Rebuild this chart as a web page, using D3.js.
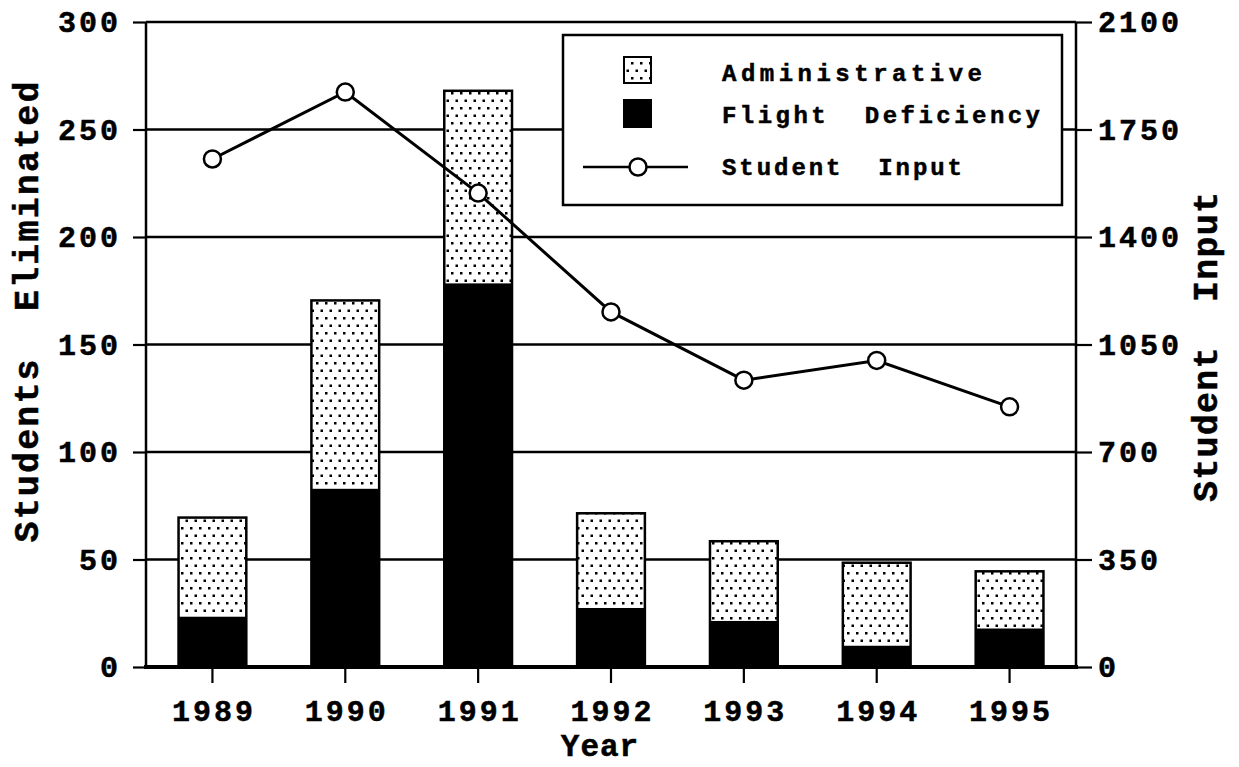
<!DOCTYPE html>
<html>
<head>
<meta charset="utf-8">
<script src="https://cdn.jsdelivr.net/npm/d3@7/dist/d3.min.js"></script>
<style>
body { margin: 0; background: #fff; }
text { font-family: "Liberation Mono", "Courier New", monospace; font-weight: bold; fill: #000; white-space: pre; stroke: #000; stroke-width: 0.5px; }
</style>
</head>
<body>
<svg id="chart" width="1239" height="767"></svg>
<script>
// data
var years = ["1989", "1990", "1991", "1992", "1993", "1994", "1995"];
var flightDeficiency = [23.5, 83, 178.5, 27.5, 21.5, 10, 18];
var administrative = [46, 87.5, 89.5, 44, 37, 38.5, 26.5];
var studentInput = [1654, 1872, 1543, 1156, 934, 998, 847];
var leftTicks = [0, 50, 100, 150, 200, 250, 300];
var rightTicks = [0, 350, 700, 1050, 1400, 1750, 2100];
var legendLabels = ["Administrative", "Flight  Deficiency", "Student  Input"];

var svg = d3.select("#chart");
// plot box (note: "top" is taken by window.top)
var pLeft = 146, pRight = 1076, pTop = 22, pBottom = 667;

var x = d3.scaleBand().domain(years).range([pLeft, pRight]).paddingInner(0.49).paddingOuter(0.245);
var yL = d3.scaleLinear().domain([0, 300]).range([pBottom, pTop]);
var yR = d3.scaleLinear().domain([0, 2100]).range([pBottom, pTop]);

// dotted fill
var pat = svg.append("defs").append("pattern")
    .attr("id", "dots").attr("patternUnits", "userSpaceOnUse")
    .attr("width", 9).attr("height", 15);
pat.append("rect").attr("width", 9).attr("height", 15).attr("fill", "#fff");
pat.append("rect").attr("x", 1).attr("y", 2).attr("width", 2.5).attr("height", 2.5).attr("fill", "#000");
pat.append("rect").attr("x", 5.5).attr("y", 9.5).attr("width", 2.5).attr("height", 2.5).attr("fill", "#000");

// grid lines
svg.append("g").selectAll("line").data(leftTicks.slice(1)).enter().append("line")
    .attr("x1", pLeft).attr("x2", pRight)
    .attr("y1", function(d) { return yL(d); }).attr("y2", function(d) { return yL(d); })
    .attr("stroke", "#000").attr("stroke-width", 2.5);

// stacked bars
var table = years.map(function(y, i) {
    return { year: y, flight: flightDeficiency[i], admin: administrative[i] };
});
var stack = d3.stack().keys(["flight", "admin"])(table);
var fills = { flight: "#000", admin: "url(#dots)" };

svg.append("g").selectAll("g").data(stack).enter().append("g")
    .attr("fill", function(d) { return fills[d.key]; })
    .selectAll("rect").data(function(d) { return d; }).enter().append("rect")
    .attr("x", function(d) { return x(d.data.year); })
    .attr("width", x.bandwidth())
    .attr("y", function(d) { return yL(d[1]); })
    .attr("height", function(d) { return yL(d[0]) - yL(d[1]); });

svg.append("g").selectAll("rect").data(stack[1]).enter().append("rect")
    .attr("x", function(d) { return x(d.data.year); })
    .attr("width", x.bandwidth())
    .attr("y", function(d) { return yL(d[1]); })
    .attr("height", function(d) { return yL(0) - yL(d[1]); })
    .attr("fill", "none").attr("stroke", "#000").attr("stroke-width", 2.5);

// axes
var gl = svg.append("g").attr("transform", "translate(" + pLeft + ",0)")
    .call(d3.axisLeft(yL).tickValues(leftTicks).tickSize(13).tickPadding(15));
var gr = svg.append("g").attr("transform", "translate(" + pRight + ",0)")
    .call(d3.axisRight(yR).tickValues(rightTicks).tickFormat(d3.format("d")).tickSize(16).tickPadding(6));
var gb = svg.append("g").attr("transform", "translate(0," + pBottom + ")")
    .call(d3.axisBottom(x).tickSize(16).tickPadding(12));

[gl, gr, gb].forEach(function(g) {
    g.select(".domain").remove();
    g.selectAll(".tick line").attr("stroke", "#000").attr("stroke-width", 2.2);
    g.selectAll(".tick text").attr("font-size", 30).attr("letter-spacing", 3)
        .attr("font-family", null);
});
gl.selectAll(".tick text").attr("dx", 3);
gb.selectAll(".tick text").attr("dx", 1.5).attr("dy", "0.85em");

svg.append("line").attr("x1", pLeft).attr("x2", pLeft).attr("y1", pTop).attr("y2", pBottom)
    .attr("stroke", "#000").attr("stroke-width", 2.5);
svg.append("line").attr("x1", pRight).attr("x2", pRight).attr("y1", pTop).attr("y2", pBottom)
    .attr("stroke", "#000").attr("stroke-width", 2.5);
svg.append("line").attr("x1", pLeft - 2).attr("x2", pRight + 2).attr("y1", pBottom).attr("y2", pBottom)
    .attr("stroke", "#000").attr("stroke-width", 4);

// student input line
var line = d3.line()
    .x(function(d, i) { return x(years[i]) + x.bandwidth() / 2; })
    .y(function(d) { return yR(d); });
svg.append("path").datum(studentInput).attr("d", line)
    .attr("fill", "none").attr("stroke", "#000").attr("stroke-width", 3);
svg.append("g").selectAll("circle").data(studentInput).enter().append("circle")
    .attr("cx", function(d, i) { return x(years[i]) + x.bandwidth() / 2; })
    .attr("cy", function(d) { return yR(d); })
    .attr("r", 8.5).attr("fill", "#fff").attr("stroke", "#000").attr("stroke-width", 2.5);

// axis titles
svg.append("text").attr("transform", "translate(38,312) rotate(-90)")
    .attr("text-anchor", "middle").attr("font-size", 35)
    .attr("textLength", 461).attr("lengthAdjust", "spacing")
    .text("Students  Eliminated");
svg.append("text").attr("transform", "translate(1217,347) rotate(-90)")
    .attr("text-anchor", "middle").attr("font-size", 35)
    .attr("textLength", 310).attr("lengthAdjust", "spacing")
    .text("Student  Input");
svg.append("text").attr("x", 600).attr("y", 756)
    .attr("text-anchor", "middle").attr("font-size", 31).attr("letter-spacing", 1)
    .text("Year");

// legend
var lg = svg.append("g");
lg.append("rect").attr("x", 563).attr("y", 35).attr("width", 499).attr("height", 170)
    .attr("fill", "#fff").attr("stroke", "#000").attr("stroke-width", 2.5);
lg.append("rect").attr("x", 624).attr("y", 57).attr("width", 27).attr("height", 26)
    .attr("fill", "url(#dots)").attr("stroke", "#000").attr("stroke-width", 2);
lg.append("rect").attr("x", 623).attr("y", 99).attr("width", 29).attr("height", 29)
    .attr("fill", "#000");
lg.append("line").attr("x1", 583).attr("x2", 688).attr("y1", 167).attr("y2", 167)
    .attr("stroke", "#000").attr("stroke-width", 2.5);
lg.append("circle").attr("cx", 638).attr("cy", 167).attr("r", 8.5)
    .attr("fill", "#fff").attr("stroke", "#000").attr("stroke-width", 2.5);
var legendY = [81, 123, 175];
var legendW = [260, 318, 240];
lg.selectAll("text.lab").data(legendLabels).enter().append("text")
    .attr("class", "lab")
    .attr("x", 722).attr("y", function(d, i) { return legendY[i]; })
    .attr("font-size", 24)
    .attr("textLength", function(d, i) { return legendW[i]; }).attr("lengthAdjust", "spacing")
    .text(function(d) { return d; });
</script>
</body>
</html>
